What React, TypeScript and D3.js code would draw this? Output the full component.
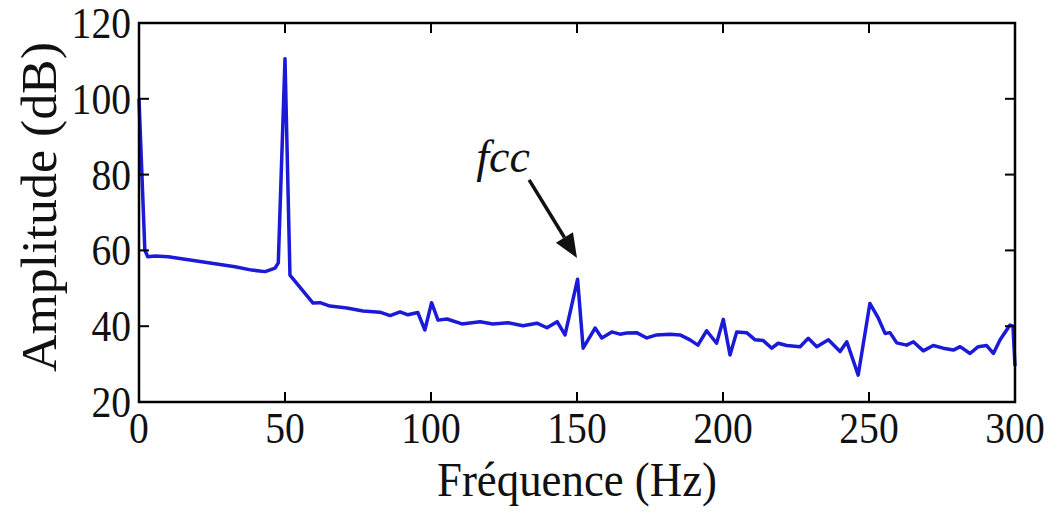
import React, { useEffect, useRef } from "react";
import * as d3 from "d3";

// spectrum (Hz, dB)
const freq = [
  0, 2, 3, 5.5, 10, 21.5, 32.9, 38.6, 43.2, 46.6, 47.7, 50, 51.7, 59.6, 62, 65.4,
  71.2, 76.7, 82.5, 86, 89.4, 92.1, 95.5, 97.9, 100.2, 102.4, 105.5, 110.6, 116.8,
  121.2, 126.4, 131.5, 136.3, 139.7, 143.2, 145.9, 150.2, 152.1, 156.2, 158.5,
  161.9, 164.7, 167, 170.4, 173.9, 177.3, 181.8, 185.3, 188.7, 191.4, 194.4,
  197.8, 200.1, 202.4, 204.7, 208.1, 211, 213.8, 216.7, 218.9, 221.8, 226.4,
  229.2, 232.1, 236.1, 240.1, 242.4, 246.3, 250.3, 253.2, 255.5, 257.2, 259.5,
  262.9, 265.2, 268.6, 272, 275.4, 278.9, 281.2, 284.6, 287.4, 290.3, 292.6,
  294.9, 298.3, 299.3, 300,
];
const amplitude = [
  100, 60.1, 58.3, 58.5, 58.3, 57.0, 55.7, 54.8, 54.4, 55.3, 56.7, 110.6, 53.5,
  46.1, 46.2, 45.3, 44.8, 44.0, 43.7, 42.8, 43.8, 43.0, 43.6, 39.0, 46.2, 41.6,
  41.9, 40.6, 41.2, 40.6, 40.9, 40.1, 40.8, 39.6, 41.2, 37.7, 52.4, 34.2, 39.5,
  36.9, 38.5, 37.9, 38.2, 38.3, 36.9, 37.7, 37.9, 37.7, 36.4, 35.0, 38.8, 35.5,
  41.8, 32.4, 38.5, 38.3, 36.4, 36.2, 34.2, 35.5, 34.9, 34.6, 36.8, 34.6, 36.4,
  33.3, 35.9, 27.1, 46.0, 42.1, 38.1, 38.3, 35.6, 35.0, 35.9, 33.5, 34.9, 34.2,
  33.7, 34.6, 32.8, 34.6, 34.9, 32.8, 36.4, 40.3, 40.0, 29.5,
];
const xTicks = [0, 50, 100, 150, 200, 250, 300];
const yTicks = [20, 40, 60, 80, 100, 120];

const W = 1057, H = 515;
const serif = "'Liberation Serif', 'Times New Roman', Times, serif";

const App = () => {
  const ref = useRef<SVGSVGElement>(null);

  useEffect(() => {
    const svg = d3.select(ref.current);
    svg.selectAll("*").remove();

    const x = d3.scaleLinear().domain([0, 300]).range([139, 1015]);
    const y = d3.scaleLinear().domain([20, 120]).range([402, 23]);
    const tick = 10;

    const data = freq.map((f, i) => [f, amplitude[i]] as [number, number]);
    const line = d3.line<[number, number]>().x((d) => x(d[0])).y((d) => y(d[1]));

    svg.append("path")
      .datum(data)
      .attr("d", line)
      .attr("fill", "none")
      .attr("stroke", "#1a1ad8")
      .attr("stroke-width", 3.5)
      .attr("stroke-linejoin", "round");

    // frame
    svg.append("rect")
      .attr("x", x(0)).attr("y", y(120))
      .attr("width", x(300) - x(0)).attr("height", y(20) - y(120))
      .attr("fill", "none").attr("stroke", "#000").attr("stroke-width", 2.5);

    const g = svg.append("g").attr("stroke", "#000").attr("stroke-width", 2);
    xTicks.forEach((v) => {
      g.append("line").attr("x1", x(v)).attr("x2", x(v)).attr("y1", y(20)).attr("y2", y(20) - tick);
      g.append("line").attr("x1", x(v)).attr("x2", x(v)).attr("y1", y(120)).attr("y2", y(120) + tick);
    });
    yTicks.forEach((v) => {
      g.append("line").attr("x1", x(0)).attr("x2", x(0) + tick).attr("y1", y(v)).attr("y2", y(v));
      g.append("line").attr("x1", x(300)).attr("x2", x(300) - tick).attr("y1", y(v)).attr("y2", y(v));
    });

    const label = (tx: number, ty: number, s: string, anchor: string) =>
      svg.append("text")
        .attr("transform", `translate(${tx},${ty}) scale(0.9,1)`)
        .attr("text-anchor", anchor)
        .style("font-family", serif)
        .style("font-size", "44px")
        .attr("fill", "#111")
        .text(s);

    xTicks.forEach((v) => label(x(v), 443, String(v), "middle"));
    yTicks.forEach((v) => label(131, y(v) + 15, String(v), "end"));

    svg.append("text")
      .attr("x", x(150)).attr("y", 496)
      .attr("text-anchor", "middle")
      .attr("textLength", 280).attr("lengthAdjust", "spacingAndGlyphs")
      .style("font-family", serif).style("font-size", "48px")
      .attr("fill", "#111")
      .text("Fréquence (Hz)");

    svg.append("text")
      .attr("transform", `translate(56,${207}) rotate(-90)`)
      .attr("text-anchor", "middle")
      .attr("textLength", 330).attr("lengthAdjust", "spacingAndGlyphs")
      .style("font-family", serif).style("font-size", "50px")
      .attr("fill", "#111")
      .text("Amplitude (dB)");

    // annotation
    svg.append("text")
      .attr("x", x(115.5)).attr("y", 172)
      .style("font-family", serif).style("font-size", "46px").style("font-style", "italic")
      .attr("fill", "#111")
      .text("fcc");

    const x0 = x(133.6), y0 = y(78.6), x1 = x(150), y1 = y(58);
    const ang = Math.atan2(y1 - y0, x1 - x0);
    const hl = 24, hw = 10;
    const bx = x1 - hl * Math.cos(ang), by = y1 - hl * Math.sin(ang);
    svg.append("line")
      .attr("x1", x0).attr("y1", y0).attr("x2", bx).attr("y2", by)
      .attr("stroke", "#111").attr("stroke-width", 3.5);
    svg.append("path")
      .attr("d", `M${x1},${y1} L${bx + hw * Math.sin(ang)},${by - hw * Math.cos(ang)} L${bx - hw * Math.sin(ang)},${by + hw * Math.cos(ang)} Z`)
      .attr("fill", "#111");
  }, []);

  return (
    <svg
      ref={ref}
      width={W}
      height={H}
      style={{ position: "absolute", left: 0, top: 0, background: "#fff" }}
    />
  );
};

export default App;
